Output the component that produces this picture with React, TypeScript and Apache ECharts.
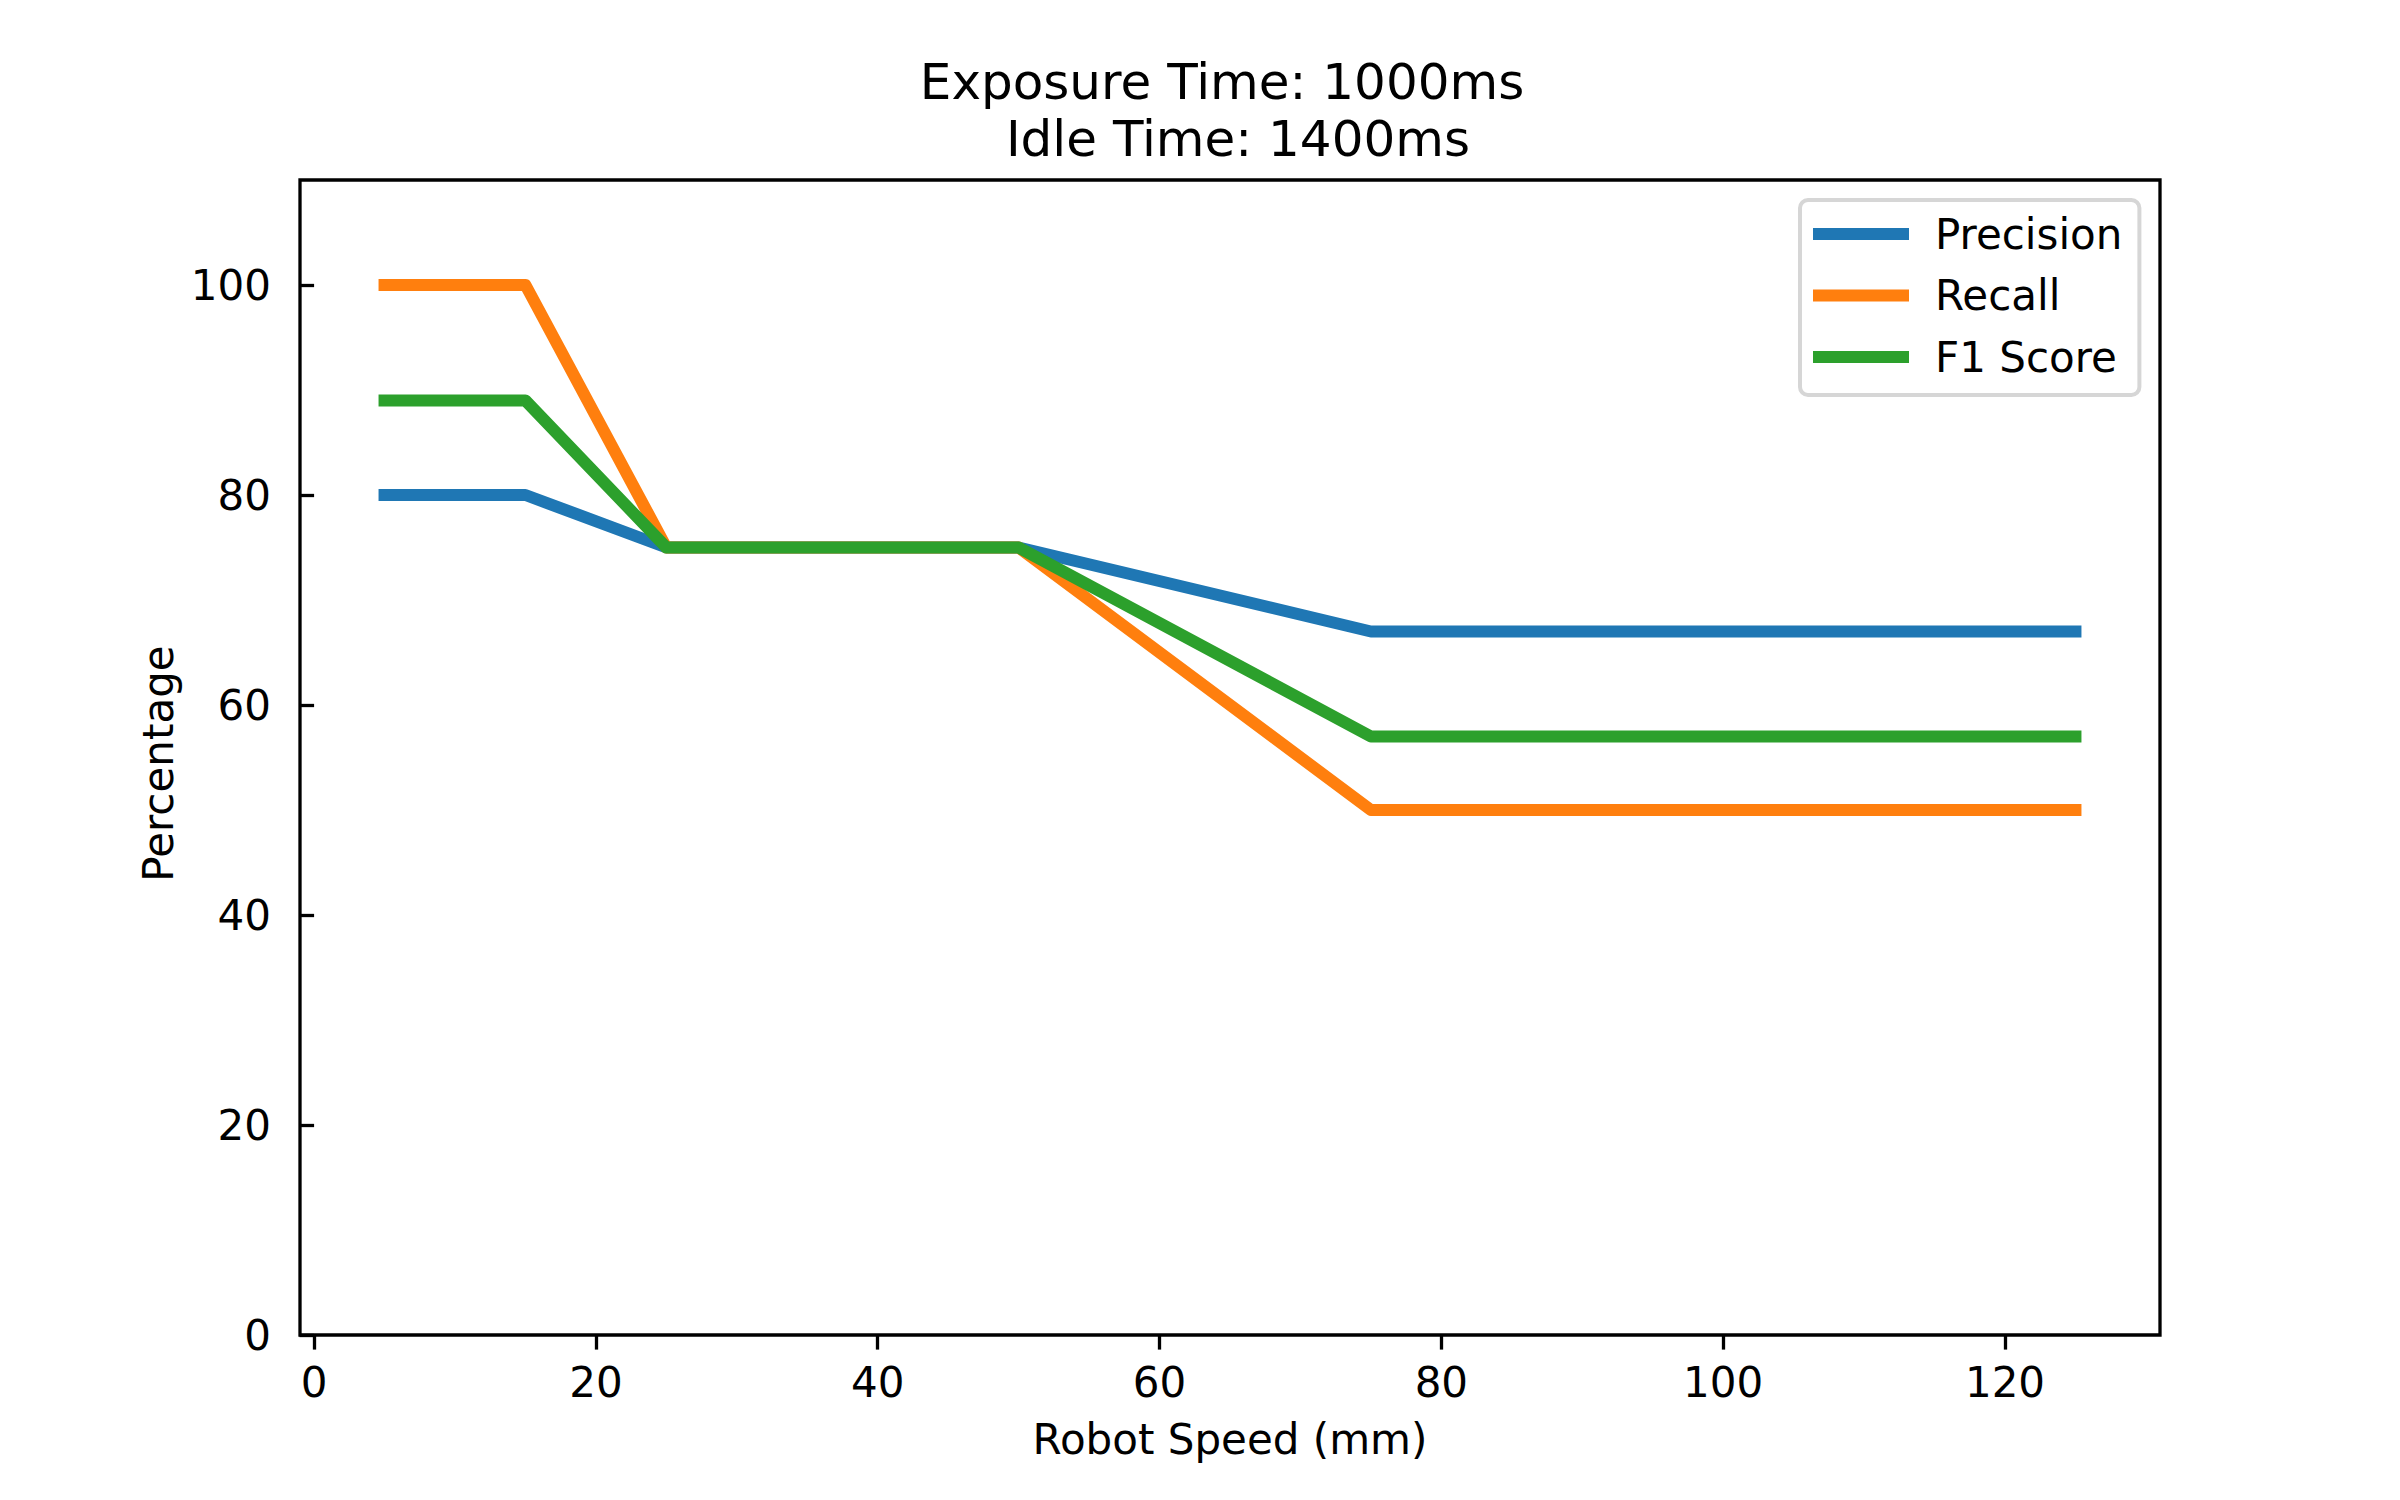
import React, { useEffect, useRef } from "react";
import * as echarts from "echarts";

const speeds = [5, 15, 25, 50, 75, 100, 125];
const precision = [80, 80, 75, 75, 67, 67, 67];
const recall = [100, 100, 75, 75, 50, 50, 50];
const f1Score = [89, 89, 75, 75, 57, 57, 57];
const xTicks = [0, 20, 40, 60, 80, 100, 120];
const yTicks = [0, 20, 40, 60, 80, 100];
const seriesNames = ["Precision", "Recall", "F1 Score"];
const colors = ["#1f77b4", "#ff7f0e", "#2ca02c"];

const FONT = "DejaVu Sans";

export default function App() {
  const ref = useRef<HTMLDivElement>(null);
  useEffect(() => {
    if (!ref.current) return;
    const chart = echarts.init(ref.current, undefined, { renderer: "svg" });
    const all = [precision, recall, f1Score];
    chart.setOption({
      animation: false,
      backgroundColor: "#ffffff",
      textStyle: { fontFamily: FONT, color: "#000" },
      title: {
        text: "Exposure Time: 1000ms \n Idle Time: 1400ms",
        left: 1230,
        top: 53.5,
        padding: 0,
        textAlign: "center",
        textStyle: { fontFamily: FONT, fontSize: 50, fontWeight: "normal", color: "#000", lineHeight: 57 },
      },
      legend: {
        orient: "vertical",
        left: 1800,
        top: 200,
        padding: [13, 17, 17, 13],
        itemWidth: 96,
        itemHeight: 12,
        itemGap: 19.5,
        icon: "rect",
        backgroundColor: "#fff",
        borderColor: "#d6d6d6",
        borderWidth: 4,
        borderRadius: 8,
        textStyle: { fontFamily: FONT, fontSize: 42, color: "#000", lineHeight: 42, padding: [0, 0, 0, 21] },
        data: seriesNames,
      },
      grid: {
        left: 300,
        right: 240,
        top: 180,
        bottom: 165,
        show: true,
        borderColor: "#000",
        borderWidth: 3.3,
        backgroundColor: "#fff",
      },
      xAxis: {
        type: "value",
        min: -1,
        max: 131,
        name: "Robot Speed (mm)",
        nameLocation: "middle",
        nameGap: 83,
        nameTextStyle: { fontFamily: FONT, fontSize: 42, color: "#000" },
        axisLine: { show: false },
        splitLine: { show: false },
        axisTick: { show: true, length: 14.6, lineStyle: { color: "#000", width: 3.3 }, customValues: xTicks },
        axisLabel: { fontFamily: FONT, fontSize: 42, color: "#000", margin: 26, customValues: xTicks },
      },
      yAxis: {
        type: "value",
        min: 0,
        max: 110,
        name: "Percentage",
        nameLocation: "middle",
        nameGap: 121,
        nameTextStyle: { fontFamily: FONT, fontSize: 42, color: "#000", padding: [0, 12, 0, 0] },
        axisLine: { show: false },
        splitLine: { show: false },
        axisTick: { show: true, length: 14.6, lineStyle: { color: "#000", width: 3.3 }, customValues: yTicks },
        axisLabel: { fontFamily: FONT, fontSize: 42, color: "#000", margin: 29, customValues: yTicks },
      },
      series: seriesNames.map((name, i) => ({
        name,
        type: "line",
        showSymbol: false,
        symbol: "none",
        color: colors[i],
        lineStyle: { color: colors[i], width: 12, cap: "square", join: "round" },
        data: speeds.map((x, j) => [x, all[i][j]]),
      })),
    });
    return () => chart.dispose();
  }, []);
  return (
    <div
      ref={ref}
      style={{ position: "absolute", left: 0, top: 0, width: 2400, height: 1500 }}
    />
  );
}
